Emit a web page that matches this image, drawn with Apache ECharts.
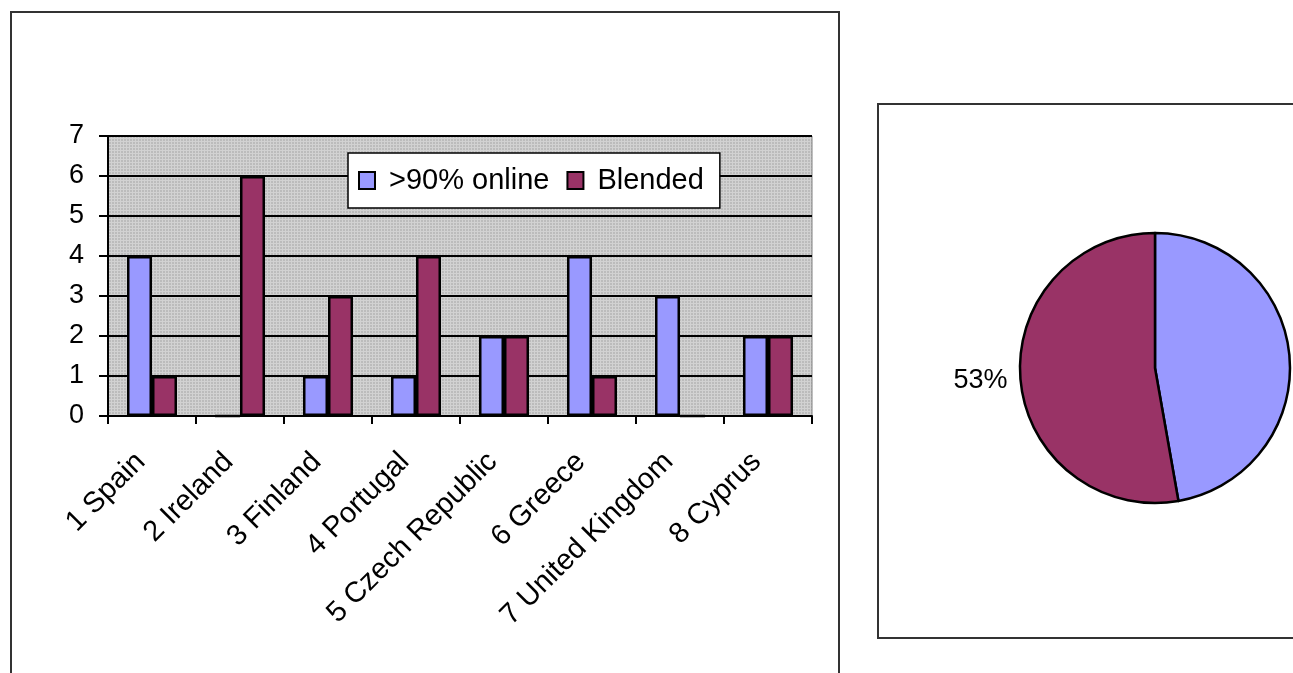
<!DOCTYPE html>
<html>
<head>
<meta charset="utf-8">
<script src="https://cdn.jsdelivr.net/npm/echarts@6/dist/echarts.min.js"></script>
<style>
  html, body { margin: 0; padding: 0; background: #fff; overflow: hidden; }
  #chart { width: 1420px; height: 700px; }
</style>
</head>
<body>
<div id="chart"></div>
<script>
// Countries ranked by number of courses
const categories = ['1 Spain', '2 Ireland', '3 Finland', '4 Portugal', '5 Czech Republic', '6 Greece', '7 United Kingdom', '8 Cyprus'];
const onlineValues = [4, 0, 1, 1, 2, 4, 3, 2];
const blendedValues = [1, 6, 3, 4, 2, 1, 0, 2];
const seriesNames = ['>90% online', 'Blended'];
const yTicks = [0, 1, 2, 3, 4, 5, 6, 7];

const BLUE = '#9999ff';
const MAROON = '#993366';
const FONT = '"Liberation Sans", Arial, sans-serif';

// Dotted grey fill for the plot area
function dottedPattern() {
  const c = document.createElement('canvas');
  c.width = 3; c.height = 3;
  const g = c.getContext('2d');
  g.fillStyle = '#bcbcbc';
  g.fillRect(0, 0, 3, 3);
  g.fillStyle = '#d2d2d2';
  g.fillRect(0, 0, 3, 1);
  g.fillRect(0, 0, 1, 3);
  return c;
}

const sum = arr => arr.reduce((a, b) => a + b, 0);
const pieData = [
  { name: seriesNames[0], value: sum(onlineValues), itemStyle: { color: BLUE } },
  { name: seriesNames[1], value: sum(blendedValues), itemStyle: { color: MAROON } }
];

const chart = echarts.init(document.getElementById('chart'), null, { renderer: 'canvas' });

chart.setOption({
  animation: false,
  backgroundColor: '#ffffff',
  textStyle: { fontFamily: FONT },
  graphic: [
    {
      type: 'rect', z: -10, silent: true,
      shape: { x: 11, y: 12, width: 828, height: 680 },
      style: { fill: 'none', stroke: '#333', lineWidth: 2 }
    },
    {
      type: 'rect', z: -10, silent: true,
      shape: { x: 878, y: 104, width: 520, height: 534 },
      style: { fill: 'none', stroke: '#333', lineWidth: 2 }
    }
  ],
  grid: {
    left: 108, top: 136, width: 704, height: 280,
    show: true,
    backgroundColor: { image: dottedPattern(), repeat: 'repeat' },
    borderColor: '#808080', borderWidth: 1
  },
  legend: {
    left: 348, top: 153,
    padding: [13, 16, 13, 10],
    itemGap: 17,
    itemWidth: 16, itemHeight: 17,
    backgroundColor: '#ffffff',
    borderColor: '#000', borderWidth: 1.5,
    icon: 'rect',
    textStyle: { fontSize: 29, color: '#000', fontFamily: FONT, padding: [0, 0, 0, 9] },
    data: seriesNames
  },
  xAxis: {
    type: 'category',
    data: categories,
    axisLine: { lineStyle: { color: '#000', width: 2 } },
    axisTick: { show: true, length: 8, lineStyle: { color: '#000', width: 2 } },
    axisLabel: {
      interval: 0, rotate: 45, fontSize: 29, color: '#000', margin: 30,
      fontFamily: FONT, padding: [0, 16, 0, 0]
    },
    splitLine: { show: false }
  },
  yAxis: {
    type: 'value',
    min: yTicks[0], max: yTicks[yTicks.length - 1], interval: 1,
    axisLine: { show: true, lineStyle: { color: '#000', width: 2 } },
    axisTick: { show: true, length: 9, lineStyle: { color: '#000', width: 2 } },
    axisLabel: { fontSize: 27, color: '#000', margin: 24, fontFamily: FONT },
    splitLine: { show: true, lineStyle: { color: '#000', width: 2 } }
  },
  series: [
    {
      name: seriesNames[0], type: 'bar', data: onlineValues,
      barWidth: 25, barGap: '0%',
      itemStyle: { color: BLUE, borderColor: '#000', borderWidth: 2.5 }
    },
    {
      name: seriesNames[1], type: 'bar', data: blendedValues,
      barWidth: 25, barGap: '0%',
      itemStyle: { color: MAROON, borderColor: '#000', borderWidth: 2.5 }
    },
    {
      type: 'pie',
      center: [1155, 368],
      radius: 135,
      startAngle: 90,
      clockwise: true,
      percentPrecision: 0,
      avoidLabelOverlap: false,
      itemStyle: { borderColor: '#000', borderWidth: 2.5 },
      label: {
        show: true, position: 'outside', formatter: '{d}%',
        fontSize: 27, color: '#000', fontFamily: FONT
      },
      labelLine: { show: false, length: 4, length2: 4 },
      emphasis: { disabled: true },
      data: pieData
    }
  ]
});
</script>
</body>
</html>
